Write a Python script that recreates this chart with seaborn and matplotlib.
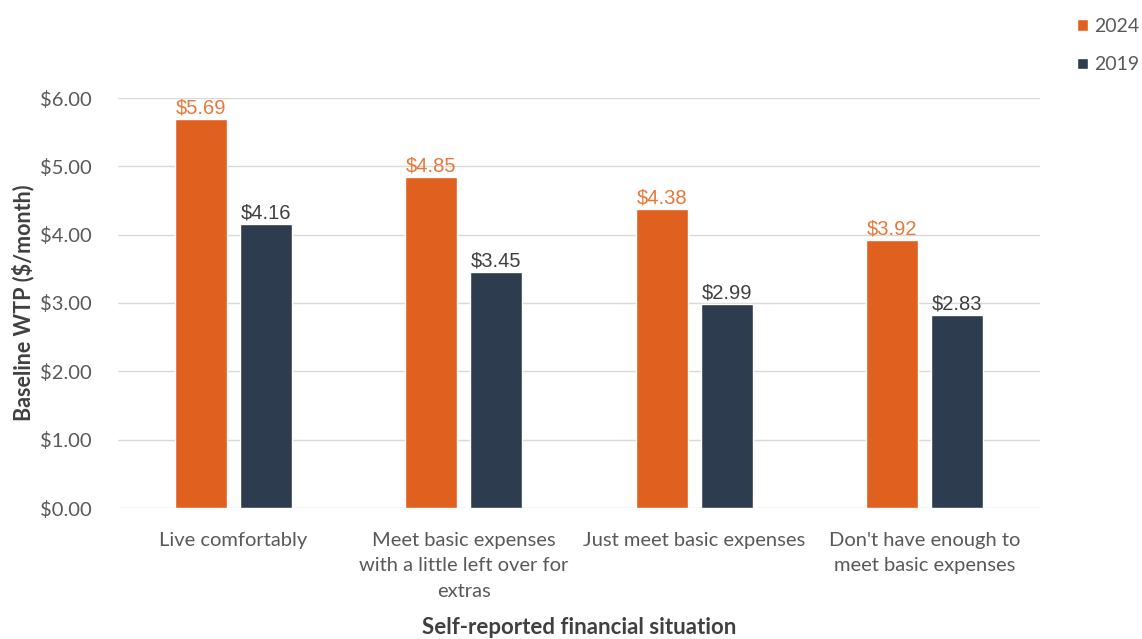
import matplotlib
matplotlib.use("Agg")
import matplotlib.pyplot as plt
import seaborn as sns
import pandas as pd
from matplotlib.patches import Patch

categories = ["Live comfortably",
              "Meet basic expenses\nwith a little left over for\nextras",
              "Just meet basic expenses",
              "Don't have enough to\nmeet basic expenses"]
values_2024 = [5.69, 4.85, 4.38, 3.92]
values_2019 = [4.16, 3.45, 2.99, 2.83]
series = ["2024", "2019"]
y_ticks = [0, 1, 2, 3, 4, 5, 6]

colors = {"2024": "#E0601F", "2019": "#2E3C4F"}
label_colors = {"2024": "#E8783A", "2019": "#404040"}

df = pd.DataFrame({
    "category": categories * 2,
    "series": ["2024"] * 4 + ["2019"] * 4,
    "value": values_2024 + values_2019,
})

sns.set_theme(style="white")
plt.rcParams["font.family"] = ["Lato", "DejaVu Sans"]

fig = plt.figure(figsize=(11.42, 6.39), dpi=100)
ax = fig.add_axes([118 / 1142, (639 - 508) / 639, (1040 - 118) / 1142, (508 - 98) / 639])

sns.barplot(data=df, x="category", y="value", hue="series", hue_order=series,
            palette=colors, width=0.565, gap=0.2, ax=ax, legend=False,
            saturation=1)

for cont, s in zip(ax.containers, series):
    ax.bar_label(cont, labels=[f"${v:.2f}" for v in cont.datavalues], padding=1,
                 color=label_colors[s], fontsize=14.5, family="Liberation Sans",
                 clip_on=False)

ax.set_ylim(0, 6)
ax.set_xlim(-0.5, 3.5)
ax.set_yticks(y_ticks)
ax.set_yticklabels([f"${v:.2f}" for v in y_ticks])
ax.yaxis.grid(True, color="#D9D9D9", linewidth=1)
ax.set_axisbelow(True)
for sp in ax.spines.values():
    sp.set_visible(False)
ax.tick_params(axis="y", length=0, pad=19, labelsize=14.5, labelcolor="#595959")
ax.tick_params(axis="x", length=0, pad=17, labelsize=14.5, labelcolor="#595959")
for t in ax.get_xticklabels():
    t.set_linespacing(1.62)

ax.set_xlabel("Self-reported financial situation", fontsize=16, fontweight="bold",
              color="#404040")
ax.xaxis.set_label_coords(0.5, (508 - 617) / 410)
ax.set_ylabel("Baseline WTP ($/month)", fontsize=15.5, fontweight="bold",
              color="#404040")
ax.yaxis.set_label_coords(-84 / 922, 0.5)

handles = [Patch(facecolor=colors[s], label=s) for s in series]
fig.legend(handles=handles, loc="upper left", bbox_to_anchor=(1077 / 1142, 1 - 18 / 639),
           frameon=False, fontsize=14, labelcolor="#595959", handlelength=0.55,
           handleheight=0.55, handletextpad=0.35, labelspacing=1.1, borderpad=0,
           borderaxespad=0)

fig.savefig("out.png", dpi=100)
